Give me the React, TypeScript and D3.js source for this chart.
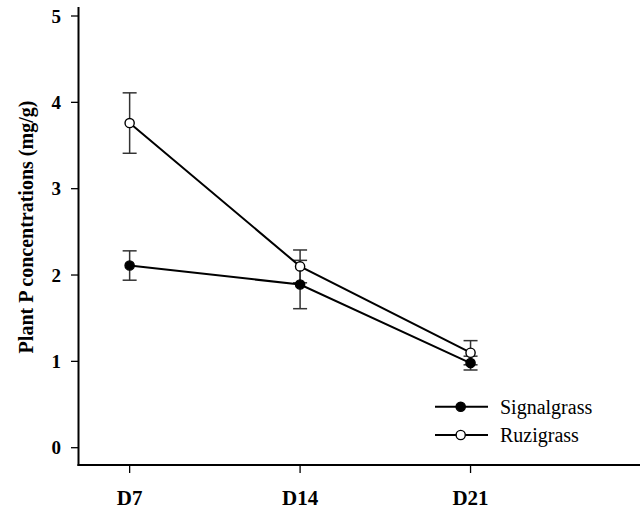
import React from "react";
import * as d3 from "d3";

const categories = ["D7", "D14", "D21"];
const signalgrass = [2.11, 1.89, 0.98];
const signalgrassErr = [0.17, 0.28, 0.08];
const ruzigrass = [3.76, 2.1, 1.1];
const ruzigrassErr = [0.35, 0.19, 0.14];
const yTicks = [0, 1, 2, 3, 4, 5];
const seriesNames = ["Signalgrass", "Ruzigrass"];

const FONT = "Times New Roman, Liberation Serif, Tinos, Nimbus Roman, DejaVu Serif, serif";

export default function App() {
  const W = 640;
  const H = 510;
  const x = d3.scaleLinear().domain([-0.3, 3]).range([78.5, 641]);
  const y = d3.scaleLinear().domain([0, 5]).range([447.7, 16]);
  const axisY = 465;
  const axisX = 78.5;

  const line = d3
    .line<number>()
    .x((_, i) => x(i))
    .y((d) => y(d));

  const series = [
    { name: seriesNames[0], values: signalgrass, err: signalgrassErr, fill: "#000" },
    { name: seriesNames[1], values: ruzigrass, err: ruzigrassErr, fill: "#fff" },
  ];

  const ts = { fontFamily: FONT };

  return (
    <svg
      width={W}
      height={H}
      style={{ position: "absolute", left: 0, top: 0, background: "#fff", fontFamily: FONT }}
    >
      <rect x={0} y={0} width={W} height={H} fill="#fff" />
      <line x1={axisX} x2={axisX} y1={7} y2={axisY + 1} stroke="#000" strokeWidth={2} />
      <line x1={axisX - 1} x2={641} y1={axisY} y2={axisY} stroke="#000" strokeWidth={2} />
      {yTicks.map((t) => (
        <g key={t}>
          <line x1={axisX - 7.5} x2={axisX} y1={y(t)} y2={y(t)} stroke="#000" strokeWidth={1.3} />
          <text
            x={61}
            y={y(t)}
            dy="0.35em"
            textAnchor="end"
            fontWeight="bold"
            fontSize={19}
            fill="#000"
            style={ts}
          >
            {t}
          </text>
        </g>
      ))}
      {categories.map((c, i) => (
        <g key={c}>
          <line x1={x(i)} x2={x(i)} y1={axisY} y2={axisY + 8} stroke="#000" strokeWidth={1.3} />
          <text
            x={x(i)}
            y={505}
            textAnchor="middle"
            fontWeight="bold"
            fontSize={21}
            fill="#000"
            style={ts}
          >
            {c}
          </text>
        </g>
      ))}
      <text
        transform={`translate(33, 227) rotate(-90)`}
        textAnchor="middle"
        fontWeight="bold"
        fontSize={20}
        fill="#000"
        style={ts}
      >
        Plant P concentrations (mg/g)
      </text>

      {series.map((s) =>
        s.values.map((v, i) => (
          <g key={s.name + i} stroke="#333" strokeWidth={1.5}>
            <line x1={x(i)} x2={x(i)} y1={y(v + s.err[i])} y2={y(v - s.err[i])} />
            <line x1={x(i) - 7} x2={x(i) + 7} y1={y(v + s.err[i])} y2={y(v + s.err[i])} />
            <line x1={x(i) - 7} x2={x(i) + 7} y1={y(v - s.err[i])} y2={y(v - s.err[i])} />
          </g>
        ))
      )}
      {series.map((s) => (
        <path key={s.name} d={line(s.values) || ""} fill="none" stroke="#000" strokeWidth={2} />
      ))}
      {series.map((s) =>
        s.values.map((v, i) => (
          <circle
            key={s.name + "m" + i}
            cx={x(i)}
            cy={y(v)}
            r={4.6}
            fill={s.fill}
            stroke="#000"
            strokeWidth={1.4}
          />
        ))
      )}

      {series.map((s, k) => {
        const ly = 406.7 + k * 28.3;
        return (
          <g key={s.name + "leg"}>
            <line x1={435} x2={488} y1={ly} y2={ly} stroke="#000" strokeWidth={2} />
            <circle cx={460.7} cy={ly} r={4.6} fill={s.fill} stroke="#000" strokeWidth={1.4} />
            <text x={500} y={ly} dy="0.35em" fontSize={20} fill="#000" style={ts}>
              {s.name}
            </text>
          </g>
        );
      })}
    </svg>
  );
}
